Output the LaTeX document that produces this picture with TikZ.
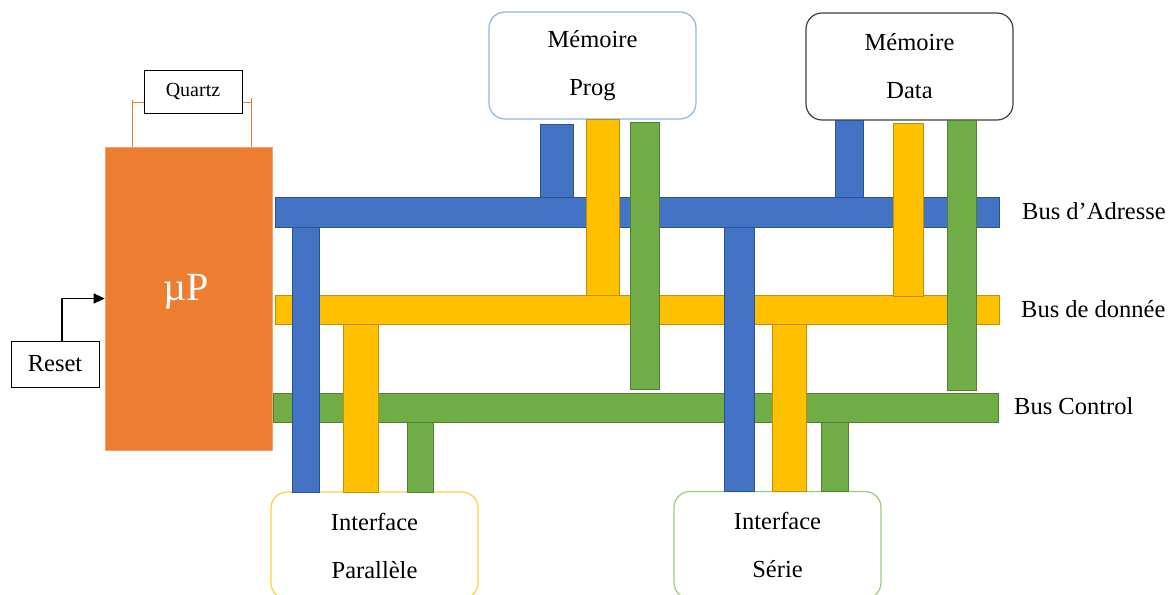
\documentclass[tikz,border=0pt]{standalone}
\usepackage{fontspec}
\setmainfont{Liberation Serif}
\usetikzlibrary{arrows.meta}
\definecolor{cblue}{HTML}{4472C4}
\definecolor{cblueb}{HTML}{2F528F}
\definecolor{cyel}{HTML}{FFC000}
\definecolor{cyelb}{HTML}{C09000}
\definecolor{cgrn}{HTML}{70AD47}
\definecolor{cgrnb}{HTML}{507E32}
\definecolor{corange}{HTML}{ED7D31}
\definecolor{cprog}{HTML}{8DB7E2}
\definecolor{cpar}{HTML}{FFCF40}
\definecolor{cser}{HTML}{9BCB7C}
\tikzset{
  abar/.style={fill=cblue,draw=cblueb,line width=0.8pt},
  dbar/.style={fill=cyel,draw=cyelb,line width=0.8pt},
  cbar/.style={fill=cgrn,draw=cgrnb,line width=0.8pt},
  membox/.style={draw,rounded corners=16pt,line width=1.2pt,fill=white,minimum width=207pt,minimum height=107pt,align=center,font=\fontsize{24.5}{48}\selectfont,inner sep=0pt},
  smallbox/.style={draw=black,line width=1pt,fill=white,inner sep=0pt},
  buslabel/.style={anchor=west,font=\fontsize{24.5}{28}\selectfont,inner sep=0pt},
  lead/.style={draw=corange,line width=1pt}
}
\begin{document}
\begin{tikzpicture}[x=1pt,y=-1pt]
\useasboundingbox (0,0) rectangle (1169,594);
\clip (0,0) rectangle (1169,594);
% CPU
\node[fill=corange,draw=corange!70!white,line width=0.6pt,minimum width=167pt,minimum height=303pt,inner sep=0pt] (up) at (188.5,298.5) {};
\node[text=white,font=\fontsize{40}{42}\selectfont,inner sep=0pt] (uplabel) at (186,292) {\textmu P};
% Quartz
\node[smallbox,minimum width=98pt,minimum height=43pt,font=\fontsize{20}{22}\selectfont] (quartz) at (193,91.5) {Quartz};
\coordinate (ql) at (132,102);
\coordinate (qr) at (251,102);
\draw[lead] (ql |- up.north) -- (132,100);
\draw[lead] (ql) -- (ql -| quartz.west);
\draw[lead] (qr |- up.north) -- (251,98);
\draw[lead] (qr) -- (qr -| quartz.east);
% Reset
\node[smallbox,minimum width=88pt,minimum height=46pt,font=\fontsize{24.5}{26}\selectfont] (reset) at (55,364) {Reset};
\draw[line width=1.2pt,-{Triangle[length=11pt,width=10pt]}] ([xshift=7pt]reset.north) |- (up.west);
% buses
\draw[abar] (275,197) rectangle (999,227);
\draw[dbar] (275,295) rectangle (999,324);
\draw[cbar] (273,393) rectangle (998,422);
% memory boxes
\node[membox,draw=cprog] (prog) at (592.5,65.5) {Mémoire\\Prog};
\node[membox,draw=black!75] (data) at (909.5,66.5) {Mémoire\\Data};
\node[membox,draw=cpar] (par) at (374.5,545.5) {Interface\\Parallèle};
\node[membox,draw=cser] (ser) at (777.5,545) {Interface\\Série};
% stubs memoire prog
\draw[abar] (540,124) rectangle (573,197);
\draw[dbar] (586,119) rectangle (619,295);
\draw[cbar] (630,122) rectangle (659,389);
% stubs memoire data
\draw[abar] (835,120) rectangle (863,197);
\draw[dbar] (893,123) rectangle (923,296);
\draw[cbar] (947,120) rectangle (976,390);
% stubs interface parallele
\draw[abar] (292,227) rectangle (319,492);
\draw[dbar] (343,324) rectangle (378,492);
\draw[cbar] (407,422) rectangle (433,492);
% stubs interface serie
\draw[abar] (724,227) rectangle (754,491);
\draw[dbar] (772,324) rectangle (806,491);
\draw[cbar] (821,422) rectangle (848,491);
% labels
\node[buslabel] (la) at (1022,211) {Bus d’Adresse};
\node[buslabel] (ld) at (1021,309) {Bus de donnée};
\node[buslabel] (lc) at (1014,406) {Bus Control};
\end{tikzpicture}
\end{document}
